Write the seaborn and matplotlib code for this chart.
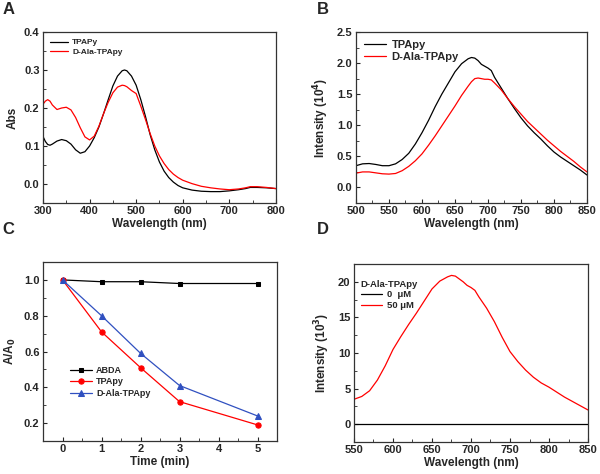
import matplotlib
matplotlib.use('Agg')
import matplotlib.pyplot as plt
import seaborn as sns
from matplotlib.ticker import MultipleLocator, AutoMinorLocator

sns.set_style('ticks')
plt.rcParams['font.family'] = ['Liberation Sans', 'DejaVu Sans']
plt.rcParams['font.weight'] = 'bold'
plt.rcParams['axes.labelweight'] = 'bold'
plt.rcParams['xtick.direction'] = 'in'
plt.rcParams['ytick.direction'] = 'in'

# Panel A: absorption spectra
wl_a = [300, 305, 310, 315, 320, 330, 340, 350, 360, 370, 380, 390, 400, 410, 420, 430, 440,
        450, 460, 470, 475, 480, 490, 500, 510, 520, 530, 540, 550, 560, 570, 580, 590, 600,
        620, 640, 660, 680, 700, 720, 735, 745, 760, 780, 800]
abs_tpapy = [0.125, 0.112, 0.104, 0.102, 0.105, 0.113, 0.117, 0.114, 0.105, 0.09, 0.081, 0.085,
             0.1, 0.122, 0.15, 0.185, 0.222, 0.258, 0.284, 0.298, 0.30, 0.298, 0.284, 0.26,
             0.222, 0.178, 0.13, 0.09, 0.058, 0.034, 0.017, 0.005, -0.004, -0.01, -0.016,
             -0.019, -0.02, -0.02, -0.018, -0.015, -0.012, -0.009, -0.009, -0.01, -0.012]
abs_dala = [0.21, 0.218, 0.222, 0.218, 0.208, 0.196, 0.2, 0.202, 0.195, 0.175, 0.148, 0.124,
            0.116, 0.126, 0.152, 0.185, 0.215, 0.24, 0.255, 0.26, 0.259, 0.256, 0.246, 0.238,
            0.205, 0.17, 0.133, 0.1, 0.074, 0.054, 0.038, 0.026, 0.017, 0.01, 0.001, -0.006,
            -0.01, -0.013, -0.015, -0.013, -0.01, -0.007, -0.007, -0.009, -0.012]

# Panel B: emission spectra (x10^4)
wl_b = [500, 510, 520, 530, 540, 550, 560, 570, 580, 590, 600, 610, 620, 630, 640, 650, 660,
        670, 675, 680, 685, 690, 695, 700, 705, 710, 720, 730, 740, 750, 760, 770, 780, 790,
        800, 810, 820, 830, 840, 850]
int_tpapy = [0.35, 0.38, 0.385, 0.37, 0.35, 0.35, 0.38, 0.45, 0.55, 0.7, 0.88, 1.08, 1.3, 1.5,
             1.68, 1.86, 1.99, 2.07, 2.09, 2.08, 2.04, 1.98, 1.95, 1.92, 1.88, 1.77, 1.6, 1.43,
             1.27, 1.12, 0.99, 0.88, 0.78, 0.67, 0.57, 0.49, 0.42, 0.35, 0.28, 0.2]
int_dala = [0.23, 0.25, 0.25, 0.235, 0.22, 0.215, 0.225, 0.27, 0.34, 0.43, 0.54, 0.68, 0.83,
            0.99, 1.15, 1.31, 1.48, 1.63, 1.7, 1.75, 1.76, 1.75, 1.74, 1.74, 1.73, 1.68, 1.57,
            1.43, 1.3, 1.18, 1.06, 0.96, 0.86, 0.76, 0.67, 0.58, 0.5, 0.42, 0.33, 0.25]

# Panel C: ABDA decay
time_min = [0, 1, 2, 3, 5]
ratio_abda = [1.0, 0.99, 0.99, 0.98, 0.98]
ratio_tpapy = [1.0, 0.71, 0.51, 0.32, 0.19]
ratio_dala = [1.0, 0.80, 0.59, 0.41, 0.24]

# Panel D: emission of D-Ala-TPApy (x10^3)
wl_d = [550, 560, 570, 580, 590, 600, 610, 620, 630, 640, 650, 660, 670, 675, 680, 690, 695,
        700, 705, 710, 720, 730, 740, 750, 760, 770, 780, 790, 800, 810, 820, 830, 840, 850]
int_50 = [3.5, 3.9, 4.7, 6.2, 8.2, 10.5, 12.3, 14.0, 15.6, 17.3, 19.0, 20.1, 20.7, 20.9, 20.8,
          20.0, 19.5, 19.2, 18.8, 17.9, 16.3, 14.4, 12.2, 10.2, 8.8, 7.6, 6.6, 5.8, 5.2, 4.5,
          3.8, 3.2, 2.6, 2.0]
int_0 = [0.0] * len(wl_d)

fig = plt.figure(figsize=(6, 4.74), dpi=100)
axA = fig.add_axes([0.0717, 0.5717, 0.388, 0.3608])
axB = fig.add_axes([0.5933, 0.5717, 0.385, 0.3608])
axC = fig.add_axes([0.0717, 0.0696, 0.39, 0.3776])
axD = fig.add_axes([0.59, 0.0675, 0.39, 0.3755])

lw = 0.9
sns.lineplot(x=wl_a, y=abs_tpapy, ax=axA, color='black', lw=lw, label='TPAPy')
sns.lineplot(x=wl_a, y=abs_dala, ax=axA, color='red', lw=lw, label='D-Ala-TPApy')
axA.set_xlim(300, 800)
axA.set_ylim(-0.05, 0.4)
axA.xaxis.set_major_locator(MultipleLocator(100))
axA.yaxis.set_major_locator(MultipleLocator(0.1))
axA.set_xlabel('Wavelength (nm)', labelpad=1)
axA.set_ylabel('Abs')
axA.legend(loc='upper left', frameon=False, fontsize=6, handlelength=2.2, handletextpad=0.5,
           borderaxespad=0.4, labelspacing=0.25)

sns.lineplot(x=wl_b, y=int_tpapy, ax=axB, color='black', lw=lw, label='TPApy')
sns.lineplot(x=wl_b, y=int_dala, ax=axB, color='red', lw=lw, label='D-Ala-TPApy')
axB.set_xlim(500, 850)
axB.set_ylim(-0.25, 2.5)
axB.xaxis.set_major_locator(MultipleLocator(50))
axB.yaxis.set_major_locator(MultipleLocator(0.5))
axB.set_xlabel('Wavelength (nm)', labelpad=1)
axB.set_ylabel('Intensity (10$^{\\mathbf{4}}$)')
axB.legend(loc='upper left', frameon=False, fontsize=8, handlelength=2.0, handletextpad=0.5,
           borderaxespad=0.3, labelspacing=0.2)

sns.lineplot(x=time_min, y=ratio_abda, ax=axC, color='black', lw=lw, marker='s', ms=3.5,
             mec='black', label='ABDA')
sns.lineplot(x=time_min, y=ratio_tpapy, ax=axC, color='red', lw=lw, marker='o', ms=3.8,
             mec='red', label='TPApy')
sns.lineplot(x=time_min, y=ratio_dala, ax=axC, color='#3050c0', lw=lw, marker='^', ms=4,
             mec='#3050c0', label='D-Ala-TPApy')
axC.set_xlim(-0.5, 5.5)
axC.set_ylim(0.1, 1.1)
axC.xaxis.set_major_locator(MultipleLocator(1))
axC.yaxis.set_major_locator(MultipleLocator(0.2))
axC.set_xlabel('Time (min)', labelpad=1)
axC.set_ylabel('A/A$_{\\mathbf{0}}$')
axC.legend(loc='center left', bbox_to_anchor=(0.08, 0.33), frameon=False, fontsize=6.5,
           handlelength=2.4, handletextpad=0.5, labelspacing=0.25)

sns.lineplot(x=wl_d, y=int_0, ax=axD, color='black', lw=lw, label='0  \u03bcM')
sns.lineplot(x=wl_d, y=int_50, ax=axD, color='red', lw=lw, label='50 \u03bcM')
axD.set_xlim(550, 850)
axD.set_ylim(-2.5, 22.5)
axD.xaxis.set_major_locator(MultipleLocator(50))
axD.yaxis.set_major_locator(MultipleLocator(5))
axD.set_xlabel('Wavelength (nm)', labelpad=1)
axD.set_ylabel('Intensity (10$^{\\mathbf{3}}$)')
legD = axD.legend(loc='upper left', frameon=False, fontsize=6.8, title='D-Ala-TPApy',
                  title_fontsize=6.8, handlelength=2.3, handletextpad=0.5, labelspacing=0.2,
                  borderaxespad=0.3, bbox_to_anchor=(0.0, 0.95))
legD.get_title().set_fontweight('bold')
legD._legend_box.align = 'left'

for ax in [axA, axB, axC, axD]:
    ax.tick_params(labelsize=8, length=3, width=0.8, pad=2.5, top=False, right=False)
    ax.tick_params(which='minor', length=2, width=0.6)
    ax.xaxis.set_minor_locator(AutoMinorLocator(2))
    ax.yaxis.set_minor_locator(AutoMinorLocator(2))
    ax.xaxis.label.set_size(8.5)
    ax.yaxis.label.set_size(8.5)
    for s in ax.spines.values():
        s.set_visible(True)
        s.set_linewidth(0.9)
        s.set_color('#333333')

for txt, x, y in [('A', 0.004, 0.995), ('B', 0.528, 0.995), ('C', 0.004, 0.532), ('D', 0.528, 0.532)]:
    fig.text(x, y, txt, fontsize=12, fontweight='bold', va='top')

fig.savefig('out.png', dpi=100)
